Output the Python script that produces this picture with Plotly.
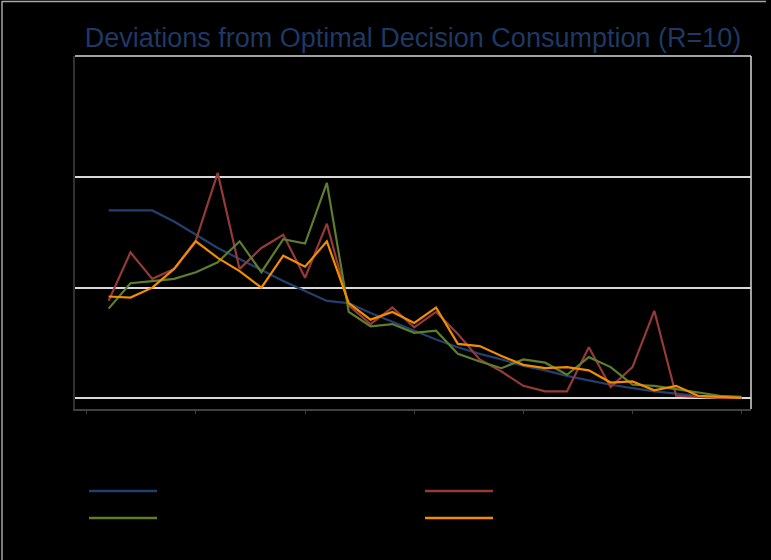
import plotly.graph_objects as go

# Periods 1..30
periods = list(range(1, 31))

optimal = [1.70, 1.70, 1.70, 1.60, 1.48, 1.36, 1.26, 1.16, 1.06, 0.97,
           0.88, 0.86, 0.77, 0.69, 0.61, 0.53, 0.46, 0.40, 0.35, 0.29,
           0.25, 0.20, 0.16, 0.12, 0.09, 0.06, 0.04, 0.02, 0.01, 0.00]
group_a = [0.88, 1.32, 1.08, 1.17, 1.43, 2.04, 1.17, 1.36, 1.48, 1.09,
           1.58, 0.84, 0.67, 0.82, 0.64, 0.78, 0.58, 0.35, 0.24, 0.11,
           0.06, 0.06, 0.46, 0.10, 0.28, 0.79, 0.02, 0.01, 0.00, 0.00]
group_b = [0.81, 1.04, 1.06, 1.08, 1.14, 1.23, 1.42, 1.14, 1.44, 1.40,
           1.95, 0.78, 0.65, 0.67, 0.59, 0.61, 0.40, 0.33, 0.27, 0.35,
           0.32, 0.21, 0.37, 0.28, 0.12, 0.11, 0.08, 0.05, 0.02, 0.01]
group_c = [0.92, 0.91, 1.00, 1.17, 1.42, 1.27, 1.15, 1.00, 1.29, 1.19,
           1.42, 0.86, 0.71, 0.78, 0.68, 0.82, 0.49, 0.47, 0.38, 0.30,
           0.27, 0.28, 0.25, 0.14, 0.15, 0.07, 0.11, 0.02, 0.01, 0.00]

series_names = ["Optimal", "Group A", "Group B", "Group C"]
series_values = [optimal, group_a, group_b, group_c]
series_colors = ["#233F6E", "#953A38", "#5E7E2C", "#F28C00"]

x_ticks = [0, 5, 10, 15, 20, 25, 30]
y_ticks = [0, 1, 2]

W, H = 771, 560
L, R, T, B = 75, 20, 56, 151

fig = go.Figure()
for name, vals, col in zip(series_names, series_values, series_colors):
    fig.add_trace(go.Scatter(x=periods, y=vals, mode="lines", name=name,
                             line=dict(color=col, width=2.2), showlegend=False))

fig.update_layout(
    width=W, height=H,
    margin=dict(l=L, r=R, t=T, b=B),
    paper_bgcolor="black", plot_bgcolor="black",
    font=dict(family="Liberation Sans, Arial, sans-serif", color="black"),
    title=dict(text="Deviations from Optimal Decision Consumption (R=10)",
               font=dict(size=27, color="#1F3864"),
               x=413 / W, xanchor="center", xref="container",
               y=1 - 38 / H, yanchor="middle", yref="container"),
)
fig.update_xaxes(range=[-0.54, 30.43], tickvals=x_ticks, showgrid=False,
                 zeroline=False, showline=True, linecolor="#404040", linewidth=2,
                 ticks="outside", ticklen=3, tickcolor="#404040",
                 tickfont=dict(color="black", size=12))
fig.update_yaxes(range=[-0.1, 3.1], tickvals=y_ticks, showgrid=True,
                 gridcolor="#D9D9D9", gridwidth=2, zeroline=False,
                 showline=True, linecolor="#303030", linewidth=2,
                 tickfont=dict(color="black", size=12))

# plot frame: light edges on top and right
fig.add_shape(type="line", xref="paper", yref="paper", x0=0, x1=1, y0=1, y1=1,
              line=dict(color="#D9D9D9", width=1.5))
fig.add_shape(type="line", xref="paper", yref="paper", x0=1, x1=1, y0=0, y1=1,
              line=dict(color="#D9D9D9", width=1.5))

# chart border on left and top edges
def px_x(x):
    return (x - L) / (W - L - R)

def px_y(y):
    return (H - B - y) / (H - T - B)

fig.add_shape(type="line", xref="paper", yref="paper",
              x0=px_x(2), x1=px_x(2), y0=px_y(1), y1=px_y(H),
              line=dict(color="#A6A6A6", width=1.5))
fig.add_shape(type="line", xref="paper", yref="paper",
              x0=px_x(2), x1=px_x(766), y0=px_y(1.5), y1=px_y(1.5),
              line=dict(color="#A6A6A6", width=1.5))

# legend: line swatches with labels
legend_pos = [(89, 491), (425, 491), (89, 518), (425, 518)]
for (lx, ly), name, col in zip(legend_pos, series_names, series_colors):
    fig.add_shape(type="line", xref="paper", yref="paper",
                  x0=px_x(lx), x1=px_x(lx + 68), y0=px_y(ly), y1=px_y(ly),
                  line=dict(color=col, width=2.5))
    fig.add_annotation(xref="paper", yref="paper", x=px_x(lx + 75), y=px_y(ly),
                       text=name, showarrow=False, xanchor="left", yanchor="middle",
                       font=dict(color="black", size=13))

fig.write_html("out.html")
